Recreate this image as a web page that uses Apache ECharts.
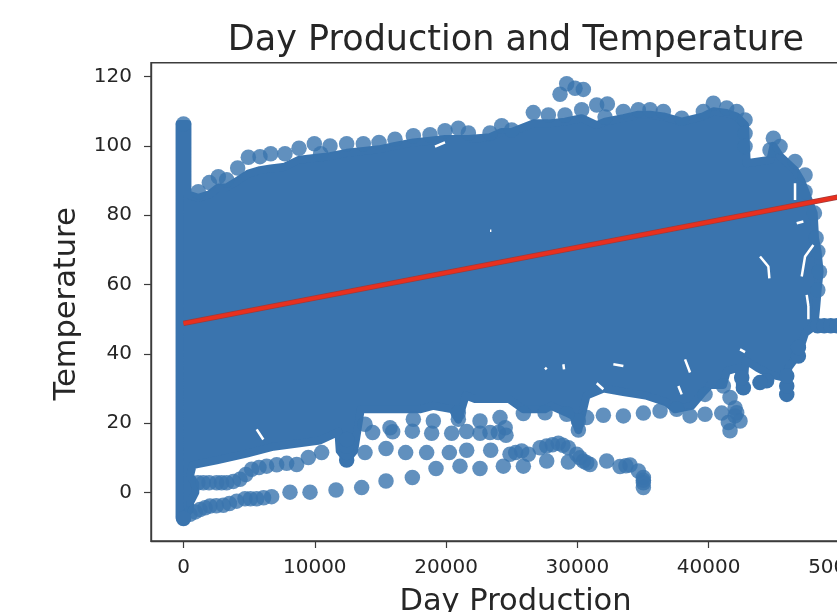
<!DOCTYPE html>
<html>
<head>
<meta charset="utf-8">
<style>
html,body{margin:0;padding:0;background:#fff;overflow:hidden}
#c{width:837px;height:612px;filter:blur(0.6px)}
</style>
<script src="https://cdn.jsdelivr.net/npm/echarts@6/dist/echarts.min.js"></script>
</head>
<body>
<div id="c"></div>
<script>
var xTicks = [0,10000,20000,30000,40000,50000];
var yTicks = [0,20,40,60,80,100,120];

// Outline of the solid mass of overlapping points
var massX = [-300,300,300,1130,1968,2653,3288,4126,4938,5827,6640,7731,8798,9966,11159,12428,13698,14892,16110,17507,18776,19919,20935,21697,23347,24236,24998,26645,27790,29060,30329,31472,32107,33503,34646,35535,36551,37947,39597,40359,41375,42136,42771,42900,44700,44929,45437,46580,47042,48000,48100,48300,48450,48300,48200,48100,47700,47342,46835,46074,45947,44700,43700,43300,42800,42650,42400,42300,41375,41100,40100,39597,38700,37439,36800,35200,33500,32000,30700,30075,29700,29187,28000,27535,25885,24800,23400,22200,21500,20934,20500,19000,18000,13500,13000,12428,11900,11800,10398,6848,4811,2526,700,500,900,900,500,500,0,-300];
var massY = [106.3,106.3,86,85,86,88,88,90,92,93,93.5,94,96,96.5,97,98,98.5,99,100,101,101.5,102,102,102,102.5,104,104,106.5,106.5,107,108,106,107,108,109,109,108.5,107,108.5,110,109.5,108.5,106,95,96,100,97,93,90,80.6,73.4,69.5,63.7,58.4,53.8,50,47,46,40,36,33,34,36,37,38,30,30,36,35,31,31,29,25,24,26,28,29,30,28,18,22,23,25,24,24,27,27,27,28,21,24,25,24,24,12,9.4,12,17.5,15,13.2,11.2,9.3,7.9,4.8,2.5,0,-2.9,-5,-7,-7];

// Individual points visible on the fringes
var topX = [0,1130,1968,2653,3288,4126,4938,5827,6640,7731,8798,9966,11159,10448,12428,13698,14892,16110,17507,18776,19919,20935,21697,23347,24236,24998,26645,27790,29060,30329,28679,29187,29822,30456,31472,32285,32107,33503,34646,35535,36551,37947,39597,40359,41375,42136,42771,42771,42771,44670,44929,45437,46580,47342,47342,48058,48185,48312,48439,48312];
var topY = [106.3,86.8,89.4,91.1,90.2,93.6,96.7,96.9,97.7,97.7,99.3,100.6,100,97.7,100.6,100.6,101,101.9,102.9,103.2,104.4,105.1,103.7,103.7,105.8,104.6,109.6,108.9,108.9,110.4,114.9,117.9,116.6,116.3,111.8,112.1,108.3,109.9,110.4,110.4,109.9,108,109.9,112.3,110.9,109.9,107.5,103.6,99.8,98.8,102.2,99.8,95.5,91.6,86.8,80.6,73.4,69.5,63.7,58.4];
var tailX = [48300,48800,49300,49800,50300,50800];
var tailY = [48.1,48.1,48.1,48.1,48.1,48.1];
var lowX = [495,900,1257,1650,2018,2500,3034,3500,4050,4684,5100,5573,6100,6715,8112,9636,11616,13571,15425,17431,19233,21061,22584,24361,25885,27662,29313,30456,30964,32234,33249,33700,34011,34646,35027,35027,35027,35027];
var lowY = [-6.3,-5.6,-4.9,-4.4,-3.9,-3.8,-3.7,-3.2,-2.5,-1.8,-1.8,-1.8,-1.5,-1.2,0.1,0.1,0.7,1.4,3.3,4.3,6.9,7.6,6.9,7.6,7.6,9.1,8.8,9.1,8.1,9.1,7.5,7.7,7.9,6.2,4.3,3.5,2.8,1.4];
var midX = [1100,1511,1950,2526,2900,3288,3800,4304,4750,5192,5750,6334,7100,7858,8620,9509,10524,13825,15425,16923,18522,20249,21570,23398,24870,25300,25758,26266,27155,27662,28100,28551,28900,29313,29948,30200,30710];
var midY = [2.8,2.8,2.8,2.8,2.8,2.8,3.2,3.8,5.2,6.7,7.2,7.6,8,8.4,8.1,10.1,11.5,11.5,12.7,11.5,11.5,11.5,12.2,12.2,11,11.5,12,11,12.9,13.4,13.8,14.2,13.6,12.9,11,10,8.6];
var upX = [14408,13825,15933,15730,17431,17507,18903,19030,20427,21570,22584,22584,23347,24107,23982,24564,24500,20934,20934,30710,31980,33503,35027,36297,37566,38582,39724,39724,40994,41121,41628,42009,42009,41628,41501,42136,42390,30075,30075,29187,27535,25885];
var upY = [17.3,19.7,17.5,18.7,17.7,21.1,17.1,20.6,17.1,17.6,20.6,17.1,17.3,21.6,17.3,16.5,18.7,21.1,23,21.6,22.3,22.1,22.9,23.5,24,22.1,22.6,28.3,22.9,30.7,27.4,24.4,22.1,17.8,20.2,23,20.6,18,20.6,22.6,23,22.8];
var hangX = [0,42644,42517,44416,43908,45947,45947,45947,46835,46835,12428,12428,12428,12428];
var hangY = [-7.5,30.2,33.1,32.2,31.7,28.3,30.7,33.6,39.4,41.8,9.4,11.5,13.4,15.3];

// Small uncovered slivers inside the mass
var gapX = [46578,46578,null,46705,47213,null,43912,44547,44623,null,47976,47342,47088,null,47468,47595,null,23347,23450,null,19157,19919,null,47595,47595,null,32741,33503,null,38201,38582,null,37693,37947,null,31472,31980,null,42390,42771,null,28933,28984,null,27535,27662,null,5573,6080];
var gapY = [89.2,84.4,null,77.7,78.2,null,68.1,65.2,61.8,null,71.4,68.1,62.3,null,57,53.8,null,75.5,75.5,null,99.8,101,null,53.8,50,null,37,36.5,null,38.4,34.6,null,30.7,28.3,null,31.5,29.8,null,41.3,40.5,null,37,35.5,null,36,35.5,null,18.2,15.3];

// Fitted line
var fitX = [0,52000];
var fitY = [48.8,86.8];

function zip(a,b){return a.map(function(v,i){return [v,b[i]];});}
var BLUE='#3a74ae';
var dots = [].concat(zip(topX,topY),zip(lowX,lowY),zip(midX,midY),zip(upX,upY));
var solidDots = [].concat(zip(tailX,tailY),zip(hangX,hangY));
var gapData = gapX.map(function(v,i){return v===null?['-','-']:[v,gapY[i]];});
function plain(v){return String(v);}

var chart = echarts.init(document.getElementById('c'),null,{renderer:'canvas',width:837,height:612});
var TXT='#262626', AX='#3c3c3c';
chart.setOption({
  animation:false,
  backgroundColor:'#fff',
  title:{text:'Day Production and Temperature',left:511,top:18,textAlign:'center',
    textStyle:{fontFamily:'DejaVu Sans',fontSize:35,fontWeight:'normal',color:TXT}},
  grid:{left:151,top:62.7,width:729,height:478.3,show:true,borderColor:AX,borderWidth:1.4,backgroundColor:'#fff',outerBoundsMode:'none',containLabel:false},
  xAxis:{type:'value',min:-2475,max:53050,splitLine:{show:false},
    name:'Day Production',nameLocation:'middle',nameGap:46,
    nameTextStyle:{fontFamily:'DejaVu Sans',fontSize:30.5,color:TXT},
    axisLine:{show:true,onZero:false,lineStyle:{color:AX,width:1.4}},
    axisTick:{show:true,length:7,customValues:xTicks,lineStyle:{color:AX,width:1.2}},
    axisLabel:{customValues:xTicks,formatter:plain,hideOverlap:false,margin:17,fontFamily:'DejaVu Sans',fontSize:20,color:TXT}},
  yAxis:{type:'value',min:-14,max:124,splitLine:{show:false},
    name:'Temperature',nameLocation:'middle',nameGap:68,
    nameTextStyle:{fontFamily:'DejaVu Sans',fontSize:30.5,color:TXT,padding:[0,4,0,0]},
    axisLine:{show:true,onZero:false,lineStyle:{color:AX,width:1.4}},
    axisTick:{show:true,length:7,customValues:yTicks,lineStyle:{color:AX,width:1.2}},
    axisLabel:{customValues:yTicks,formatter:plain,hideOverlap:false,margin:19,fontFamily:'DejaVu Sans',fontSize:20,color:TXT}},
  series:[
    {type:'custom',name:'mass',coordinateSystem:'cartesian2d',silent:true,z:2,
     data:zip(massX,massY),encode:{x:0,y:1},
     renderItem:function(params,api){
       if(params.dataIndex!==0) return null;
       var pts=massX.map(function(x,i){return api.coord([x,massY[i]]);});
       return {type:'polygon',shape:{points:pts},style:{fill:BLUE,stroke:BLUE,lineWidth:8,lineJoin:'round'}};
     }},
    {type:'scatter',name:'points',data:dots,symbolSize:15.5,z:3,silent:true,
     itemStyle:{color:BLUE,opacity:0.8}},
    {type:'scatter',name:'dense',data:solidDots,symbolSize:15.5,z:3,silent:true,
     itemStyle:{color:BLUE,opacity:1}},
    {type:'line',name:'gaps',data:gapData,symbol:'none',z:4,silent:true,connectNulls:false,
     lineStyle:{color:'#fff',width:2.5}},
    {type:'line',name:'fitEdge',data:zip(fitX,fitY),symbol:'none',z:5,silent:true,
     lineStyle:{color:'#a03a3a',width:5.5}},
    {type:'line',name:'fit',data:zip(fitX,fitY),symbol:'none',z:6,silent:true,
     lineStyle:{color:'#e8301f',width:4}}
  ]
});
</script>
</body>
</html>
